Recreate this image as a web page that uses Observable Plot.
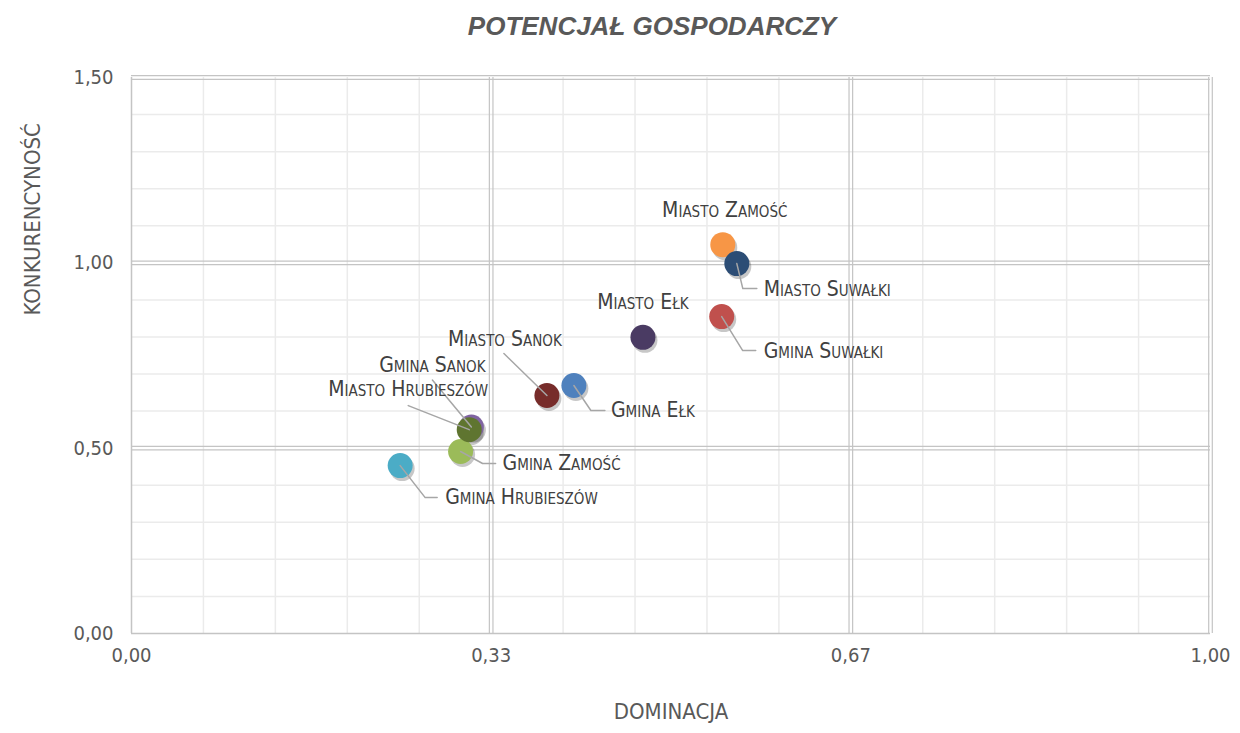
<!DOCTYPE html>
<html><head><meta charset="utf-8">
<script src="https://cdn.jsdelivr.net/npm/d3@7"></script>
<script src="https://cdn.jsdelivr.net/npm/@observablehq/plot@0.6"></script>
<style>
body{margin:0;background:#fff;width:1240px;}
#title{height:55px;line-height:52px;text-align:center;padding-left:64px;box-sizing:border-box;font-family:"Liberation Sans",Arial,sans-serif;font-weight:bold;font-style:italic;font-size:26px;color:#595959;}
</style></head><body>
<div id="title">POTENCJAŁ GOSPODARCZY</div>
<div id="chart"></div>
<script>
// ---- data ----
const names = ["Gmina Hrubieszów","Gmina Zamość","Gmina Sanok","Miasto Hrubieszów","Miasto Sanok","Gmina Ełk","Miasto Ełk","Gmina Suwałki","Miasto Zamość","Miasto Suwałki"];
const dominacja = [0.249,0.305,0.315,0.313,0.385,0.410,0.474,0.547,0.548,0.561];
const konkurencyjnosc = [0.453,0.491,0.557,0.550,0.642,0.669,0.799,0.855,1.049,0.998];
const colors = ["#4BACC6","#9BBB59","#8064A2","#5F7530","#772C2A","#4F81BD","#4A3B63","#C0504D","#F79646","#2C4D75"];
const xTicks = [0, 1/3, 2/3, 1];
const xTickLabels = ["0,00","0,33","0,67","1,00"];
const yTicks = [0, 0.5, 1, 1.5];
const yTickLabels = ["0,00","0,50","1,00","1,50"];
const xTitle = "DOMINACJA";
const yTitle = "KONKURENCYNOŚĆ";

// ---- layout (label offsets in px relative to dot; leader bends in px) ----
const labelLayout = {
  "Gmina Hrubieszów": {dx:45, dy:32, anchor:"start", leader:[[25,32],[37,32]]},
  "Gmina Zamość": {dx:42, dy:12, anchor:"start", leader:[[22,12],[35,12]]},
  "Gmina Sanok": {dx:-39, dy:-62, anchor:"middle", leader:[[-39,-47]]},
  "Miasto Hrubieszów": {dx:-61, dy:-40, anchor:"middle", leader:[[-61,-24]]},
  "Miasto Sanok": {dx:-42, dy:-56, anchor:"middle", leader:[[-43,-42]]},
  "Gmina Ełk": {dx:37, dy:25, anchor:"start", leader:[[17,25],[31,25]]},
  "Miasto Ełk": {dx:0, dy:-35, anchor:"middle", leader:null},
  "Gmina Suwałki": {dx:42, dy:35, anchor:"start", leader:[[21,34],[34,34]]},
  "Miasto Zamość": {dx:2, dy:-34, anchor:"middle", leader:null},
  "Miasto Suwałki": {dx:27, dy:26, anchor:"start", leader:[[6,25],[20,25]]}
};

const W = 1240, H = 678, mT = 22, mB = 100, mL = 131, mR = 30;
const xDom = [0,1], yDom = [0,1.5];
const kx = (W - mL - mR) / (xDom[1]-xDom[0]);
const ky = (H - mT - mB) / (yDom[1]-yDom[0]);

const points = names.map((n,i)=>({name:n, x:dominacja[i], y:konkurencyjnosc[i], color:colors[i]}));
const labels = points.map(p=>{
  const L = labelLayout[p.name];
  return {name:p.name, anchor:L.anchor, x:p.x + L.dx/kx, y:p.y - L.dy/ky};
});
const leaders = [];
points.forEach(p=>{
  const L = labelLayout[p.name];
  if (!L.leader) return;
  leaders.push({name:p.name, x:p.x, y:p.y});
  L.leader.forEach(([a,b])=>leaders.push({name:p.name, x:p.x + a/kx, y:p.y - b/ky}));
});

const xMinor = d3.range(1,15).filter(i=>i%5).map(i=>i/15);
const yMinor = d3.range(1,15).filter(i=>i%5).map(i=>i/10);
const xMajor = xTicks.slice(1);
const yMajor = yTicks.slice(1);
const grid = "#c4c4c4", minor = "#ebebeb";
const narrow = "'Liberation Sans Narrow','Arial Narrow','DejaVu Sans Condensed',sans-serif";

const plot = Plot.plot({
  width: W, height: H, marginTop: mT, marginBottom: mB, marginLeft: mL, marginRight: mR,
  x: {domain: xDom, axis: null},
  y: {domain: yDom, axis: null},
  style: {background: "#fff", overflow: "visible"},
  marks: [
    Plot.ruleX(xMinor, {stroke: minor, strokeWidth: 1.5}),
    Plot.ruleY(yMinor, {stroke: minor, strokeWidth: 1.5}),
    Plot.ruleX(xMajor, {stroke: grid, strokeWidth: 1.2, dx: -1.8}),
    Plot.ruleX(xMajor, {stroke: grid, strokeWidth: 1.2, dx: 1.8}),
    Plot.ruleY(yMajor, {stroke: grid, strokeWidth: 1.2, dy: -1.8}),
    Plot.ruleY(yMajor, {stroke: grid, strokeWidth: 1.2, dy: 1.8}),
    Plot.ruleX([0], {stroke: grid, strokeWidth: 1.5}),
    Plot.ruleY([0], {stroke: grid, strokeWidth: 1.5}),
    Plot.text(xTicks, {x: d=>d, text: (d,i)=>xTickLabels[i], frameAnchor: "bottom", dy: 28, fill: "#595959", fontSize: 20, fontFamily: narrow}),
    Plot.text(yTicks, {y: d=>d, text: (d,i)=>yTickLabels[i], frameAnchor: "left", dx: -18, textAnchor: "end", fill: "#595959", fontSize: 20, fontFamily: narrow}),
    Plot.text([xTitle], {frameAnchor: "bottom", text: d=>d, dy: 85, fill: "#595959", fontSize: 22, fontFamily: narrow}),
    Plot.text([yTitle], {frameAnchor: "left", text: d=>d, rotate: -90, dx: -99, dy: -40, fill: "#595959", fontSize: 22, fontFamily: narrow}),
    Plot.dot(points, {x: "x", y: "y", r: 12.5, fill: "#000", fillOpacity: 0.22, dx: 2, dy: 3, ariaLabel: "shadow"}),
    Plot.dot(points, {x: "x", y: "y", r: 12.5, fill: "color"}),
    Plot.line(leaders, {x: "x", y: "y", z: "name", stroke: "#a6a6a6", strokeWidth: 1.5, curve: "linear"}),
    Plot.text(labels.filter(d=>d.anchor==="start"), {x: "x", y: "y", text: "name", textAnchor: "start", fill: "#404040", fontSize: 21, fontVariant: "small-caps", fontFamily: narrow}),
    Plot.text(labels.filter(d=>d.anchor==="middle"), {x: "x", y: "y", text: "name", textAnchor: "middle", fill: "#404040", fontSize: 21, fontVariant: "small-caps", fontFamily: narrow})
  ]
});
const sh = plot.querySelector('g[aria-label="shadow"]');
if (sh) sh.style.filter = "blur(2.5px)";
document.getElementById("chart").appendChild(plot);
</script>
</body></html>
